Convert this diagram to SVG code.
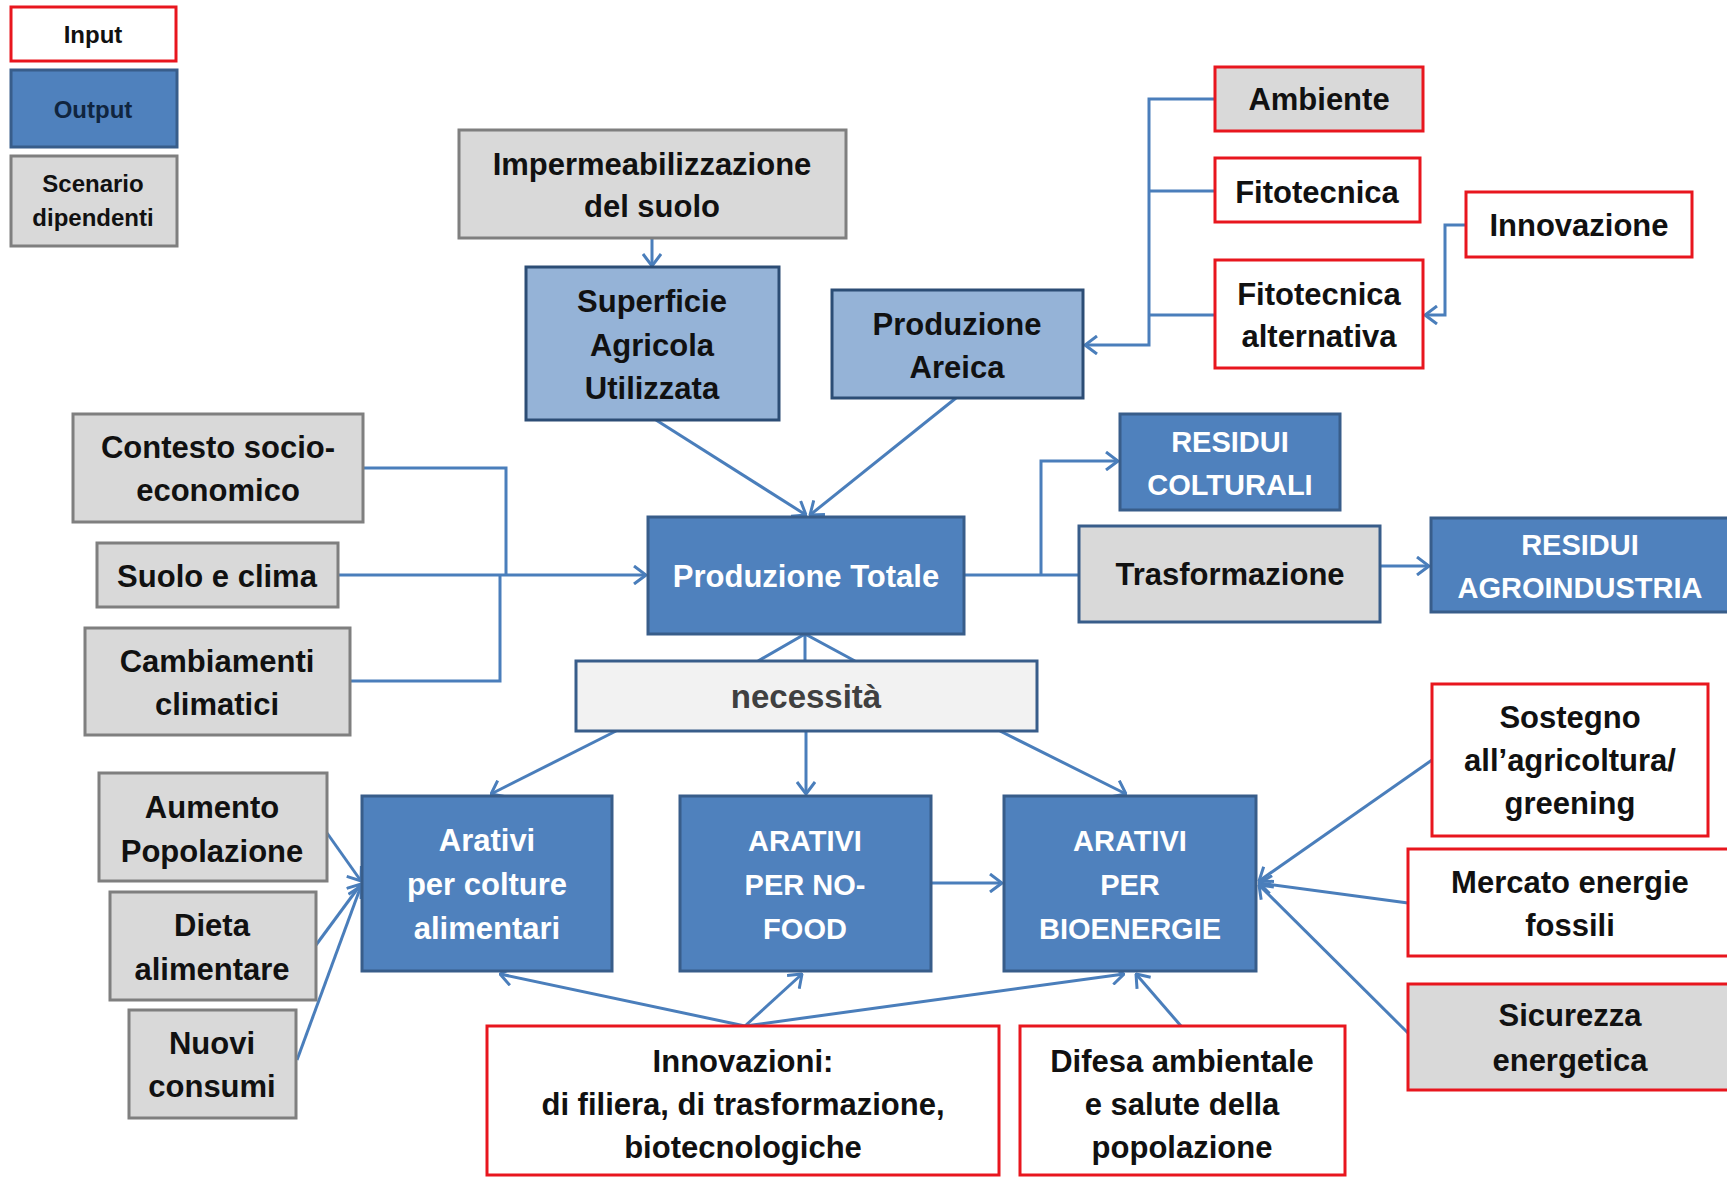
<svg xmlns="http://www.w3.org/2000/svg" width="1727" height="1178" viewBox="0 0 1727 1178">
<style>
text{font-family:"Liberation Sans",Arial,sans-serif;font-weight:bold;text-anchor:middle;font-size:31px;fill:#111}
.w{fill:#fff}
.up{font-size:29px}
.leg{font-size:24px}
.in{fill:#fff;stroke:#e8161e;stroke-width:3}
.ingr{fill:#d9d9d9;stroke:#e8161e;stroke-width:3}
.out{fill:#4f81bd;stroke:#385d8a;stroke-width:3}
.lb{fill:#95b3d7;stroke:#2c4d75;stroke-width:3}
.sc{fill:#d9d9d9;stroke:#7f7f7f;stroke-width:3}
.con{fill:none;stroke:#4a7ebb;stroke-width:3}
</style>
<defs>
<marker id="a" viewBox="0 0 14 20" refX="13" refY="10" markerWidth="14" markerHeight="20" markerUnits="userSpaceOnUse" orient="auto"><path d="M1,1 L13,10 L1,19" fill="none" stroke="#4a7ebb" stroke-width="3"/></marker>
</defs>
<rect width="1727" height="1178" fill="#fff"/>
<g id="legend">
<g id="leg-input"><rect class="in" x="11" y="7" width="165" height="54"/><text class="leg" x="93" y="43">Input</text></g>
<g id="leg-output"><rect class="out" x="11" y="70" width="166" height="77"/><text class="leg" x="93" y="118" style="fill:#10253f">Output</text></g>
<g id="leg-scenario"><rect class="sc" x="11" y="156" width="166" height="90"/><text class="leg" x="93" y="192">Scenario</text><text class="leg" x="93" y="226">dipendenti</text></g>
</g>
<g id="connectors">
<path class="con" d="M652,238 V266" marker-end="url(#a)"/>
<path class="con" d="M1215,99 H1149 V345 H1085" marker-end="url(#a)"/>
<path class="con" d="M1215,191 H1149"/>
<path class="con" d="M1215,315 H1149"/>
<path class="con" d="M1466,225 H1445 V315 H1425" marker-end="url(#a)"/>
<path class="con" d="M656,420 L806,515" marker-end="url(#a)"/>
<path class="con" d="M956,398 L810,515" marker-end="url(#a)"/>
<path class="con" d="M363,468 H506 V575"/>
<path class="con" d="M350,681 H500 V575"/>
<path class="con" d="M338,575 H646" marker-end="url(#a)"/>
<path class="con" d="M964,575 H1079"/>
<path class="con" d="M1041,575 V461 H1118" marker-end="url(#a)"/>
<path class="con" d="M1380,566 H1429" marker-end="url(#a)"/>
<path class="con" d="M758,661 L805,634 L855,661 M805,634 V661"/>
<path class="con" d="M616,731 L491,794" marker-end="url(#a)"/>
<path class="con" d="M806,731 V794" marker-end="url(#a)"/>
<path class="con" d="M1000,731 L1126,794" marker-end="url(#a)"/>
<path class="con" d="M931,883 H1002" marker-end="url(#a)"/>
<path class="con" d="M327,833 L361,881" marker-end="url(#a)"/>
<path class="con" d="M316,945 L361,884" marker-end="url(#a)"/>
<path class="con" d="M297,1060 L361,886" marker-end="url(#a)"/>
<path class="con" d="M745,1026 L500,974" marker-end="url(#a)"/>
<path class="con" d="M745,1026 L802,974" marker-end="url(#a)"/>
<path class="con" d="M745,1026 L1124,974" marker-end="url(#a)"/>
<path class="con" d="M1181,1026 L1136,974" marker-end="url(#a)"/>
<path class="con" d="M1432,760 L1259,881" marker-end="url(#a)"/>
<path class="con" d="M1408,903 L1259,883" marker-end="url(#a)"/>
<path class="con" d="M1408,1033 L1259,885" marker-end="url(#a)"/>
</g>
<g id="impermeabilizzazione"><rect class="sc" x="459" y="130" width="387" height="108"/><text x="652" y="175">Impermeabilizzazione</text><text x="652" y="217">del suolo</text></g>
<g id="superficie"><rect class="lb" x="526" y="267" width="253" height="153"/><text x="652" y="312">Superficie</text><text x="652" y="356">Agricola</text><text x="652" y="399">Utilizzata</text></g>
<g id="produzione-areica"><rect class="lb" x="832" y="290" width="251" height="108"/><text x="957" y="335">Produzione</text><text x="957" y="378">Areica</text></g>
<g id="ambiente"><rect class="ingr" x="1215" y="67" width="208" height="64"/><text x="1319" y="110">Ambiente</text></g>
<g id="fitotecnica"><rect class="in" x="1215" y="158" width="205" height="64"/><text x="1317" y="203">Fitotecnica</text></g>
<g id="fitotecnica-alternativa"><rect class="in" x="1215" y="260" width="208" height="108"/><text x="1319" y="305">Fitotecnica</text><text x="1319" y="347">alternativa</text></g>
<g id="innovazione"><rect class="in" x="1466" y="192" width="226" height="65"/><text x="1579" y="236">Innovazione</text></g>
<g id="contesto"><rect class="sc" x="73" y="414" width="290" height="108"/><text x="218" y="458">Contesto socio-</text><text x="218" y="501">economico</text></g>
<g id="suolo-clima"><rect class="sc" x="97" y="543" width="241" height="64"/><text x="217" y="587">Suolo e clima</text></g>
<g id="cambiamenti"><rect class="sc" x="85" y="628" width="265" height="107"/><text x="217" y="672">Cambiamenti</text><text x="217" y="715">climatici</text></g>
<g id="produzione-totale"><rect class="out" x="648" y="517" width="316" height="117"/><text class="w" x="806" y="587">Produzione Totale</text></g>
<g id="residui-colturali"><rect class="out" x="1120" y="414" width="220" height="96"/><text class="w up" x="1230" y="452">RESIDUI</text><text class="w up" x="1230" y="495">COLTURALI</text></g>
<g id="trasformazione"><rect x="1079" y="526" width="301" height="96" fill="#d9d9d9" stroke="#385d8a" stroke-width="3"/><text x="1230" y="585">Trasformazione</text></g>
<g id="residui-agroindustria"><rect class="out" x="1431" y="518" width="298" height="94"/><text class="w up" x="1580" y="555">RESIDUI</text><text class="w up" x="1580" y="598">AGROINDUSTRIA</text></g>
<g id="necessita"><rect x="576" y="661" width="461" height="70" fill="#f2f2f2" stroke="#385d8a" stroke-width="3"/><text x="806" y="708" style="font-size:33px;fill:#404040">necessità</text></g>
<g id="aumento"><rect class="sc" x="99" y="773" width="228" height="108"/><text x="212" y="818">Aumento</text><text x="212" y="862">Popolazione</text></g>
<g id="dieta"><rect class="sc" x="110" y="892" width="206" height="108"/><text x="212" y="936">Dieta</text><text x="212" y="980">alimentare</text></g>
<g id="nuovi"><rect class="sc" x="129" y="1010" width="167" height="108"/><text x="212" y="1054">Nuovi</text><text x="212" y="1097">consumi</text></g>
<g id="arativi-alimentari"><rect class="out" x="362" y="796" width="250" height="175"/><text class="w" x="487" y="851">Arativi</text><text class="w" x="487" y="895">per colture</text><text class="w" x="487" y="939">alimentari</text></g>
<g id="arativi-nofood"><rect class="out" x="680" y="796" width="251" height="175"/><text class="w up" x="805" y="851">ARATIVI</text><text class="w up" x="805" y="895">PER NO-</text><text class="w up" x="805" y="939">FOOD</text></g>
<g id="arativi-bioenergie"><rect class="out" x="1004" y="796" width="252" height="175"/><text class="w up" x="1130" y="851">ARATIVI</text><text class="w up" x="1130" y="895">PER</text><text class="w up" x="1130" y="939">BIOENERGIE</text></g>
<g id="sostegno"><rect class="in" x="1432" y="684" width="276" height="152"/><text x="1570" y="728">Sostegno</text><text x="1570" y="771">all’agricoltura/</text><text x="1570" y="814">greening</text></g>
<g id="mercato"><rect class="in" x="1408" y="849" width="322" height="107"/><text x="1570" y="893">Mercato energie</text><text x="1570" y="936">fossili</text></g>
<g id="sicurezza"><rect class="ingr" x="1408" y="984" width="322" height="106"/><text x="1570" y="1026">Sicurezza</text><text x="1570" y="1071">energetica</text></g>
<g id="innovazioni"><rect class="in" x="487" y="1026" width="512" height="149"/><text x="743" y="1072">Innovazioni:</text><text x="743" y="1115">di filiera, di trasformazione,</text><text x="743" y="1158">biotecnologiche</text></g>
<g id="difesa"><rect class="in" x="1020" y="1026" width="325" height="149"/><text x="1182" y="1072">Difesa ambientale</text><text x="1182" y="1115">e salute della</text><text x="1182" y="1158">popolazione</text></g>
</svg>
